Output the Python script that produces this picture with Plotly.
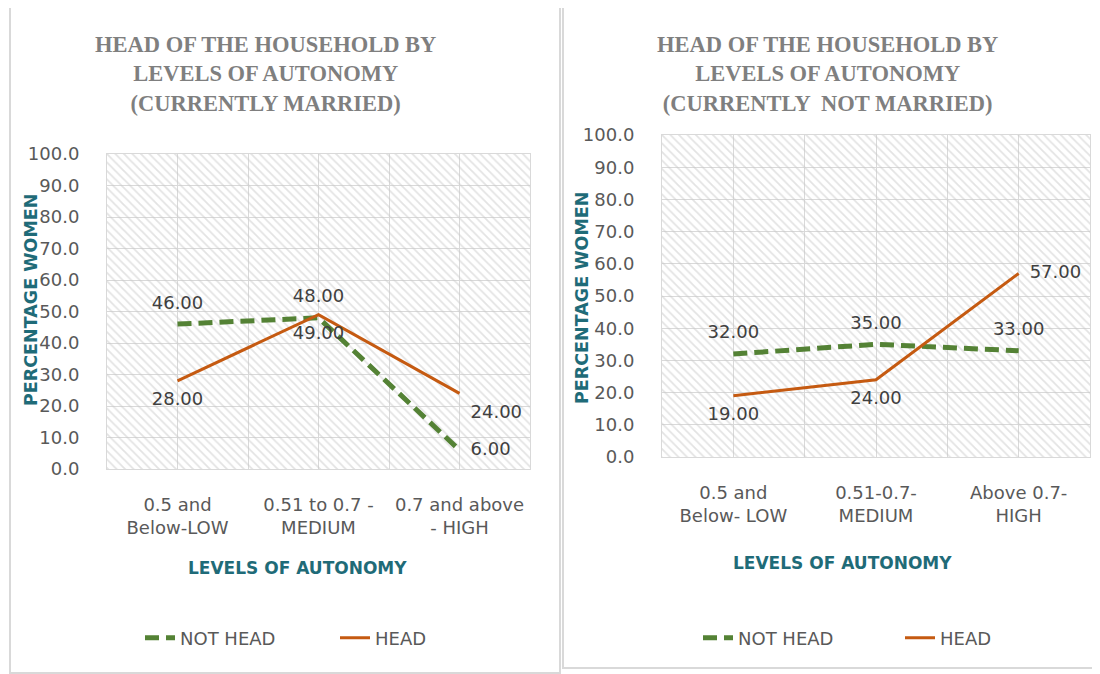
import plotly.graph_objects as go

# ---------------- data ----------------
left_categories = ["0.5 and<br>Below-LOW", "0.51 to 0.7 -<br>MEDIUM", "0.7 and above<br>- HIGH"]
right_categories = ["0.5 and<br>Below- LOW", "0.51-0.7-<br>MEDIUM", "Above 0.7-<br>HIGH"]

married_not_head = [46, 48, 6]
married_head = [28, 49, 24]
unmarried_not_head = [32, 35, 33]
unmarried_head = [19, 24, 57]

y_tick_values = [0, 10, 20, 30, 40, 50, 60, 70, 80, 90, 100]
y_max = 100

left_title = "HEAD OF THE HOUSEHOLD BY<br>LEVELS OF AUTONOMY<br>(CURRENTLY MARRIED)"
right_title = "HEAD OF THE HOUSEHOLD BY<br>LEVELS OF AUTONOMY<br>(CURRENTLY  NOT MARRIED)"
y_title = "PERCENTAGE WOMEN"
x_title = "LEVELS OF AUTONOMY"

# ---------------- styling ----------------
W, H = 1100, 674
OFF = 8  # page body margin offset of the rendered figure
def fx(px):
    return (px - OFF) / W
def fy(px):
    return 1 - (px - OFF) / H

GREEN = "#548235"
ORANGE = "#C55A11"
GRID = "#d9d9d9"
TICK_COLOR = "#595959"
LABEL_COLOR = "#404040"
TEAL = "#1f6b78"
TITLE_COLOR = "#7f7f7f"
SANS = "DejaVu Sans"
SERIF = "Liberation Serif"

fig = go.Figure()

panels = [
    dict(x="x", y="y", cats=left_categories, nh=married_not_head, h=married_head,
         nh_pos=["top center", "top center", "middle right"],
         h_pos=["bottom center", "bottom center", "bottom right"],
         legend="legend"),
    dict(x="x2", y="y2", cats=right_categories, nh=unmarried_not_head, h=unmarried_head,
         nh_pos=["top center", "top center", "top center"],
         h_pos=["bottom center", "bottom center", "middle right"],
         legend="legend2"),
]

for p in panels:
    pos = list(range(len(p["cats"])))
    # hatched plot-area background
    fig.add_trace(go.Bar(
        x=pos, y=[y_max] * len(pos), width=1, xaxis=p["x"], yaxis=p["y"],
        marker=dict(color="#c8c8c8", line=dict(width=0),
                    pattern=dict(shape="\\", size=6, solidity=0.3,
                                 fgcolor="#c8c8c8", bgcolor="rgba(0,0,0,0)")),
        hoverinfo="skip", showlegend=False,
    ))
    # lines
    fig.add_trace(go.Scatter(
        x=pos, y=p["nh"], mode="lines", name="NOT HEAD", xaxis=p["x"], yaxis=p["y"],
        line=dict(color=GREEN, width=5, dash="14px,7px"), legend=p["legend"],
    ))
    fig.add_trace(go.Scatter(
        x=pos, y=p["h"], mode="lines", name="HEAD", xaxis=p["x"], yaxis=p["y"],
        line=dict(color=ORANGE, width=3), legend=p["legend"],
    ))
    # data labels
    for vals, tpos in ((p["nh"], p["nh_pos"]), (p["h"], p["h_pos"])):
        fig.add_trace(go.Scatter(
            x=pos, y=vals, mode="markers+text", xaxis=p["x"], yaxis=p["y"],
            marker=dict(size=16, color="rgba(0,0,0,0)"),
            text=[f"{v:.2f}" for v in vals], textposition=tpos,
            textfont=dict(family=SANS, size=18, color=LABEL_COLOR),
            showlegend=False, hoverinfo="skip", cliponaxis=False,
        ))

def xaxis_cfg(domain, cats):
    return dict(
        domain=domain, range=[-0.5, len(cats) - 0.5],
        tickmode="array", tickvals=list(range(len(cats))), ticktext=cats,
        tickfont=dict(family=SANS, size=18, color=TICK_COLOR),
        showgrid=True, gridcolor=GRID, gridwidth=1,
        minor=dict(tickmode="linear", tick0=-0.5, dtick=1, showgrid=True,
                   gridcolor=GRID, gridwidth=1, ticks=""),
        zeroline=False, showline=True, linecolor=GRID, mirror=True,
        ticks="", ticklabelstandoff=19, fixedrange=True, automargin=False,
    )

def yaxis_cfg(domain):
    return dict(
        domain=domain, range=[0, y_max],
        tickmode="array", tickvals=y_tick_values,
        ticktext=[f"{v:.1f}" for v in y_tick_values],
        tickfont=dict(family=SANS, size=18, color=TICK_COLOR),
        showgrid=True, gridcolor=GRID, gridwidth=1,
        zeroline=False, showline=True, linecolor=GRID, mirror=True,
        ticks="", ticklabelstandoff=23, fixedrange=True, automargin=False,
    )

title_font = dict(family=SERIF, size=22.5, color=TITLE_COLOR, weight="bold")
axis_title_font = dict(family=SANS, size=17, color=TEAL, weight="bold")

annotations = [
    dict(text=left_title, x=fx(265), y=fy(74), xref="paper", yref="paper",
         xanchor="center", yanchor="middle", showarrow=False, font=title_font),
    dict(text=right_title, x=fx(827), y=fy(74), xref="paper", yref="paper",
         xanchor="center", yanchor="middle", showarrow=False, font=title_font),
    dict(text=y_title, x=fx(31), y=fy(300), xref="paper", yref="paper", textangle=-90,
         xanchor="center", yanchor="middle", showarrow=False,
         font=dict(axis_title_font, size=17.5)),
    dict(text=y_title, x=fx(582), y=fy(298), xref="paper", yref="paper", textangle=-90,
         xanchor="center", yanchor="middle", showarrow=False,
         font=dict(axis_title_font, size=17.5)),
    dict(text=x_title, x=fx(297), y=fy(568), xref="paper", yref="paper",
         xanchor="center", yanchor="middle", showarrow=False, font=axis_title_font),
    dict(text=x_title, x=fx(842), y=fy(563), xref="paper", yref="paper",
         xanchor="center", yanchor="middle", showarrow=False, font=axis_title_font),
]

shapes = [
    dict(type="rect", xref="paper", yref="paper", x0=fx(10), x1=fx(560), y0=fy(673), y1=fy(7),
         line=dict(color=GRID, width=2)),
    dict(type="rect", xref="paper", yref="paper", x0=fx(563), x1=fx(1099), y0=fy(668), y1=fy(7),
         line=dict(color=GRID, width=2)),
]

legend_common = dict(orientation="h", xanchor="left", yanchor="middle",
                     font=dict(family=SANS, size=18, color=TICK_COLOR),
                     bgcolor="rgba(0,0,0,0)", itemclick=False, itemdoubleclick=False)

fig.update_layout(
    width=W, height=H, margin=dict(l=0, r=0, t=0, b=0, autoexpand=False),
    paper_bgcolor="white", plot_bgcolor="white",
    barmode="overlay", bargap=0,
    xaxis=xaxis_cfg([fx(107), fx(530)], left_categories),
    yaxis=yaxis_cfg([fy(469), fy(154)]),
    xaxis2=dict(xaxis_cfg([fx(662), fx(1090)], right_categories), anchor="y2"),
    yaxis2=dict(yaxis_cfg([fy(457), fy(135)]), anchor="x2"),
    legend=dict(legend_common, x=fx(140), y=fy(638), entrywidth=150),
    legend2=dict(legend_common, x=fx(698), y=fy(638), entrywidth=157),
    annotations=annotations, shapes=shapes,
    hovermode=False,
)

fig.write_html("out.html")
